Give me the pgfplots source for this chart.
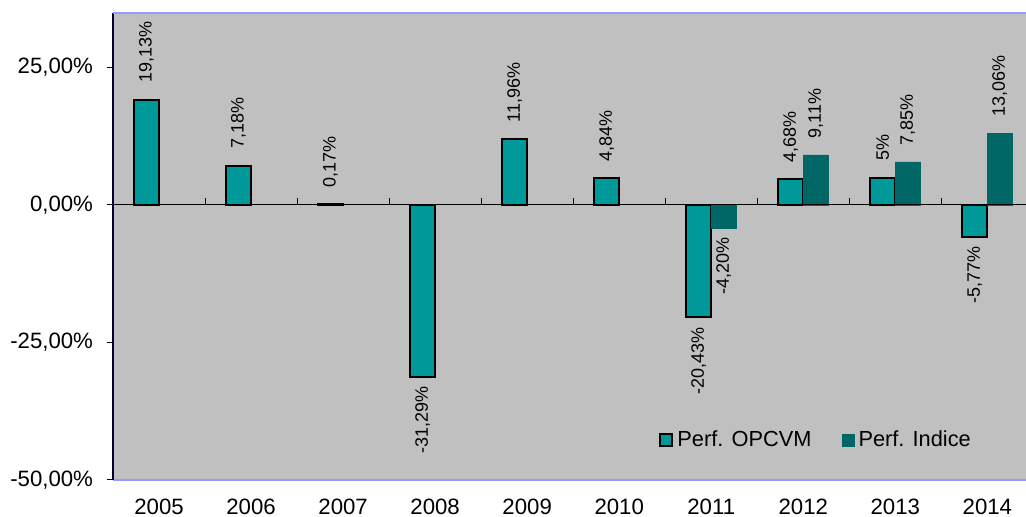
\documentclass[border=0pt]{standalone}
\usepackage{pgfplots}
\usepackage{pgfplotstable}
\usepackage{graphicx}
\pgfplotsset{compat=1.18}
\usepackage{fontspec}
\setmainfont{Liberation Sans}
\definecolor{bggray}{HTML}{C0C0C0}
\definecolor{lav}{HTML}{9999FF}
\definecolor{tealA}{HTML}{009999}
\definecolor{tealB}{HTML}{006666}
\pgfplotstableread{
x y lab
0 19.13 19,13\%
1 7.18 7,18\%
2 0.17 0,17\%
3 -31.29 -31,29\%
4 11.96 11,96\%
5 4.84 4,84\%
6 -20.43 -20,43\%
7 4.68 4,68\%
8 5 5\%
9 -5.77 -5,77\%
}\opcvm
\pgfplotstableread{
x y lab
6 -4.20 -4,20\%
7 9.11 9,11\%
8 7.85 7,85\%
9 13.06 13,06\%
}\indice
\tikzset{lblanchor/.code={\ifdim\myy pt<0pt\relax\pgfkeysalso{anchor=north,inner ysep=4.5pt}\else\pgfkeysalso{anchor=south,inner ysep=8pt}\fi}}
\begin{document}
\begin{tikzpicture}
\begin{axis}[
  scale only axis,
  width=456.5pt, height=233.5pt,
  xmin=-0.5, xmax=9.42,
  ymin=-50, ymax=35,
  axis background/.style={fill=bggray},
  axis x line=bottom, axis y line=left,
  x axis line style={draw=lav, line width=0.8pt, -},
  y axis line style={draw=black!80!blue, line width=0.6pt, -},
  xtick={0,...,9},
  xticklabels={2005,2006,2007,2008,2009,2010,2011,2012,2013,2014},
  x tick style={draw=none},
  ytick={-50,-25,0,25},
  yticklabels={{-50,00\%},{-25,00\%},{0,00\%},{25,00\%}},
  y tick style={black, line width=0.5pt},
  tick align=outside,
  major tick length=3pt,
  /pgf/number format/assume math mode=true,
  tick label style={font=\fontsize{11.1}{12}\selectfont},
  xticklabel style={yshift=-3.2pt},
  yticklabel style={xshift=-3.5pt},
  ybar,
  bar width=0.2716,
  point meta=explicit symbolic,
  visualization depends on={rawy \as \myy},
  nodes near coords={\rotatebox{90}{\pgfplotspointmeta}},
  every node near coord/.append style={font=\fontsize{9}{10}\selectfont, text=black, inner xsep=0pt, lblanchor},
  legend style={at={(axis description cs:0.771,0.085)}, anchor=center, draw=none, fill=none,
    font=\fontsize{10.9}{12}\selectfont, column sep=0pt,
    /tikz/every even column/.append style={column sep=13pt}},
  legend columns=2,
  legend image code/.code={\draw[#1] (0pt,-3.1pt) rectangle (6.2pt,3.1pt);},
  clip=false,
]
\addplot[fill=tealA, draw=black, line width=1pt, bar shift=-0.1358]
  table[x=x, y=y, meta=lab] {\opcvm};
\addlegendentry{Perf. OPCVM}
\addplot[fill=tealB, draw=tealB, line width=0.3pt, bar shift=0.1358]
  table[x=x, y=y, meta=lab] {\indice};
\addlegendentry{Perf. Indice}
\draw[black, line width=0.5pt] (axis cs:-0.5,0) -- (axis cs:9.42,0);
\draw[black, line width=0.5pt] (axis cs:0.5,0) -- (axis cs:0.5,1.3);
\draw[black, line width=0.5pt] (axis cs:1.5,0) -- (axis cs:1.5,1.3);
\draw[black, line width=0.5pt] (axis cs:2.5,0) -- (axis cs:2.5,1.3);
\draw[black, line width=0.5pt] (axis cs:3.5,0) -- (axis cs:3.5,1.3);
\draw[black, line width=0.5pt] (axis cs:4.5,0) -- (axis cs:4.5,1.3);
\draw[black, line width=0.5pt] (axis cs:5.5,0) -- (axis cs:5.5,1.3);
\draw[black, line width=0.5pt] (axis cs:6.5,0) -- (axis cs:6.5,1.3);
\draw[black, line width=0.5pt] (axis cs:7.5,0) -- (axis cs:7.5,1.3);
\draw[black, line width=0.5pt] (axis cs:8.5,0) -- (axis cs:8.5,1.3);
\draw[lav, line width=0.8pt] (axis description cs:0,1) -- (axis description cs:1,1);
\coordinate (bbsw) at (axis description cs:-0.1238,-0.0792);
\coordinate (bbne) at (axis description cs:1,1.0272);
\end{axis}
\pgfresetboundingbox
\path[use as bounding box] (bbsw) rectangle (bbne);
\end{tikzpicture}
\end{document}
